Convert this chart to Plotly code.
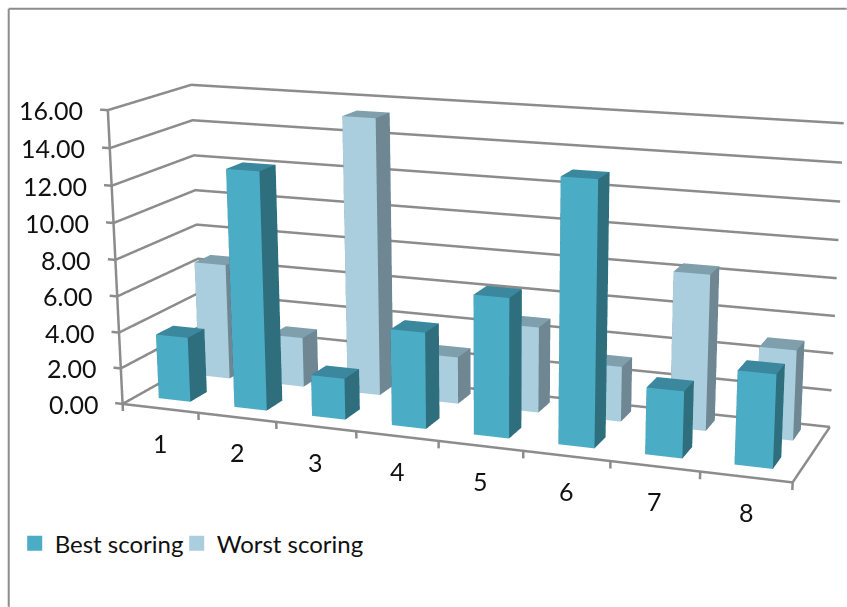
import numpy as np
import plotly.graph_objects as go

categories = [1, 2, 3, 4, 5, 6, 7, 8]
best_scoring = [3.6, 13.0, 2.25, 5.2, 7.45, 13.85, 3.5, 4.85]
worst_scoring = [6.55, 2.8, 15.3, 2.6, 4.7, 3.0, 8.35, 4.8]
z_ticks = [0, 2, 4, 6, 8, 10, 12, 14, 16]

# Camera solved for the reference's wall corners (logical box centred on the origin)
E = np.array([2.3304, -6.1593, 1.6164])
C = np.array([0.1469, -0.1712, -0.1595])
U = np.array([-0.0020, 0.0041])
asp = np.array([2.2929, 0.5706, 1.0])
F, PX, PY = 2082.1, 494.3, 333.8

H = max(int(round(2 * F * np.tan(np.pi / 8))), 607)
W = int(2 * max(PX, 847 - PX) + 2)
OX = W / 2 - PX
OY = H / 2 - PY

x_rng = [0.4, 8.6]; y_rng = [-0.05, 2.05]; z_rng = [-0.4, 16.1]
logical = np.array([[0.5, 8.5], [0.0, 2.0], [0.0, 16.0]])
ext = np.array([x_rng, y_rng, z_rng])
ratio = (ext[:, 1] - ext[:, 0]) / (logical[:, 1] - logical[:, 0])
delta = ((ext.mean(axis=1) - logical.mean(axis=1)) / (logical[:, 1] - logical[:, 0])) * asp
aspect = asp * ratio
Ep, Cp = E - delta, C - delta

colors_best = ["#4BACC6", "#3A879E", "#2F6E7D"]
colors_worst = ["#AACEDD", "#7F9FAC", "#6E8792"]
bar_w, bar_d = 0.42, 0.42
bar_off = 0.0
line = "#8C8C8C"

def bar_mesh(xs, heights, yc, cols, name):
    X, Y, Z, I, J, K, FC = [], [], [], [], [], [], []
    for x, h in zip(xs, heights):
        n = len(X)
        x0, x1 = x + bar_off - bar_w / 2, x + bar_off + bar_w / 2
        y0, y1 = yc - bar_d / 2, yc + bar_d / 2
        X += [x0, x1, x1, x0, x0, x1, x1, x0]
        Y += [y0, y0, y1, y1, y0, y0, y1, y1]
        Z += [0, 0, 0, 0, h, h, h, h]
        faces = [(0, 1, 5, 0), (0, 5, 4, 0), (4, 5, 6, 1), (4, 6, 7, 1),
                 (1, 2, 6, 2), (1, 6, 5, 2), (0, 3, 7, 2), (0, 7, 4, 2),
                 (3, 2, 6, 0), (3, 6, 7, 0)]
        for a, b, c, s in faces:
            I.append(n + a); J.append(n + b); K.append(n + c); FC.append(cols[s])
    return go.Mesh3d(x=X, y=Y, z=Z, i=I, j=J, k=K, facecolor=FC, flatshading=True,
                     lighting=dict(ambient=1, diffuse=0, specular=0, fresnel=0, roughness=1),
                     name=name, showlegend=False, hoverinfo="skip")

def axis_lines():
    xs, ys, zs = [], [], []
    xa, xb = logical[0]; ya, yb = logical[1]
    for t in z_ticks:
        xs += [x_rng[0], xa, xa, xb, None]; ys += [ya, ya, yb, yb, None]; zs += [t, t, t, t, None]
    xs += [xa, xa, None, xa, xb, xb, None]; ys += [ya, ya, None, ya, ya, yb, None]; zs += [0, 16, None, 0, 0, 0, None]
    for b in [c - 0.5 for c in categories] + [categories[-1] + 0.5]:
        xs += [b, b, None]; ys += [ya, ya, None]; zs += [0, z_rng[0], None]
    return go.Scatter3d(x=xs, y=ys, z=zs, mode="lines", line=dict(color=line, width=5),
                        showlegend=False, hoverinfo="skip")

fig = go.Figure()
fig.add_trace(axis_lines())
fig.add_trace(bar_mesh(categories, worst_scoring, 1.58, colors_worst, "Worst scoring"))
fig.add_trace(bar_mesh(categories, best_scoring, 0.56, colors_best, "Best scoring"))
for nm, col, lw in [("Best scoring", colors_best[0], 117), ("Worst scoring", colors_worst[0], 170)]:
    fig.add_trace(go.Scatter3d(x=[None], y=[None], z=[None], mode="markers", name=nm, legendwidth=lw,
                               marker=dict(symbol="square", size=15, color=col)))

font = dict(family="Lato", size=24, color="#111111")
tick_font = dict(family="Lato", size=25, color="#111111")
annos = [dict(x=0.5, y=0, z=t, text=f"{t:.2f}", showarrow=False, xanchor="right", xshift=-23, font=tick_font)
         for t in z_ticks]
annos += [dict(x=c, y=0, z=0, text=str(c), showarrow=False, yshift=-35, font=tick_font) for c in categories]

px_x = lambda v: (v + OX) / W
px_y = lambda v: 1 - (v + OY) / H
fig.update_layout(
    width=W, height=H, margin=dict(l=0, r=0, t=0, b=0), paper_bgcolor="white",
    font=font,
    scene=dict(
        domain=dict(x=[0, 1], y=[0, 1]),
        aspectmode="manual",
        aspectratio=dict(x=float(aspect[0]), y=float(aspect[1]), z=float(aspect[2])),
        camera=dict(eye=dict(x=Ep[0], y=Ep[1], z=Ep[2]), center=dict(x=Cp[0], y=Cp[1], z=Cp[2]),
                    up=dict(x=U[0], y=U[1], z=1), projection=dict(type="perspective")),
        xaxis=dict(range=x_rng, visible=False),
        yaxis=dict(range=y_rng, visible=False),
        zaxis=dict(range=z_rng, visible=False),
        annotations=annos,
    ),
    legend=dict(orientation="h", x=px_x(15), y=px_y(544), xanchor="left", yanchor="middle",
                font=font, entrywidthmode="pixels"),
    shapes=[
        dict(type="line", xref="paper", yref="paper", x0=px_x(9), x1=px_x(9), y0=px_y(607), y1=px_y(9), line=dict(color=line, width=2)),
        dict(type="line", xref="paper", yref="paper", x0=px_x(9), x1=px_x(847), y0=px_y(9), y1=px_y(9), line=dict(color=line, width=2)),
    ],
)
post = f"""
document.body.style.margin='0';
document.body.style.overflow='hidden';
document.documentElement.style.overflow='hidden';
var g=document.getElementById('{{plot_id}}');
g.style.position='absolute'; g.style.left='{-OX}px'; g.style.top='{-OY}px';
"""
fig.write_html("out.html", post_script=post, config=dict(displayModeBar=False))
